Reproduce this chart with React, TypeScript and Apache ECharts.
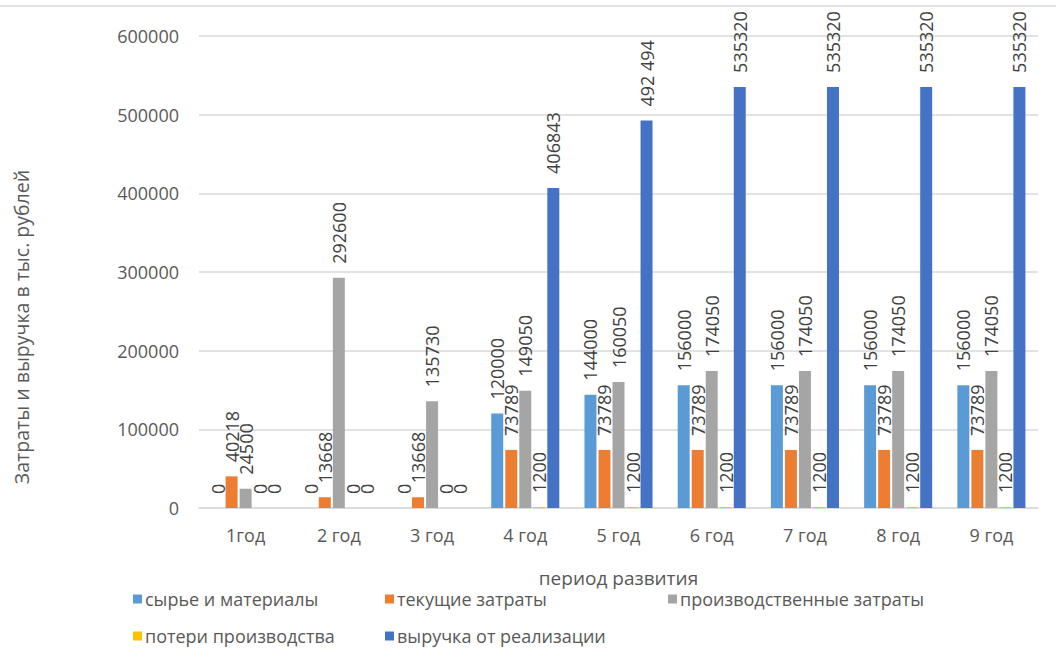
import React, { useEffect, useRef } from "react";
import * as echarts from "echarts";

const categories = ["1год", "2 год", "3 год", "4 год", "5 год", "6 год", "7 год", "8 год", "9 год"];

const rawMaterials = [0, 0, 0, 120000, 144000, 156000, 156000, 156000, 156000];
const currentCosts = [40218, 13668, 13668, 73789, 73789, 73789, 73789, 73789, 73789];
const productionCosts = [24500, 292600, 135730, 149050, 160050, 174050, 174050, 174050, 174050];
const productionLosses = [0, 0, 0, 1200, 1200, 1200, 1200, 1200, 1200];
const salesRevenue = [0, 0, 0, 406843, 492494, 535320, 535320, 535320, 535320];

const seriesNames = [
  "сырье и материалы",
  "текущие затраты",
  "производственные затраты",
  "потери производства",
  "выручка от реализации",
];
const seriesColors = ["#5B9BD5", "#ED7D31", "#A5A5A5", "#FFC000", "#4472C4"];

const yTicks = [0, 100000, 200000, 300000, 400000, 500000, 600000];

const FONT = "'Open Sans', sans-serif";

// Excel-style thousands grouping for the one label that uses it
const spacedValues = new Set([492494]);
const fmt = (v: number) =>
  spacedValues.has(v) ? String(v).replace(/\B(?=(\d{3})+(?!\d))/g, " ") : String(v);

export default function App() {
  const ref = useRef<HTMLDivElement>(null);

  useEffect(() => {
    if (!ref.current) return;
    const chart = echarts.init(ref.current, undefined, { renderer: "svg" });
    const dataSets = [rawMaterials, currentCosts, productionCosts, productionLosses, salesRevenue];

    const legendLayout = [
      { left: 133, top: 590 },
      { left: 385, top: 590 },
      { left: 668, top: 590 },
      { left: 133, top: 627 },
      { left: 385, top: 627 },
    ];

    chart.setOption({
      animation: false,
      textStyle: { fontFamily: FONT },
      grid: { left: 199, right: 18, top: 36, bottom: 156, containLabel: false },
      legend: seriesNames.map((name, i) => ({
        data: [name],
        left: legendLayout[i].left,
        top: legendLayout[i].top,
        itemWidth: 9,
        itemHeight: 9,
        icon: "rect",
        itemGap: 0,
        padding: 0,
        selectedMode: false,
        textStyle: { color: "#595959", fontSize: 18, fontFamily: FONT, padding: [0, 0, 0, -2] },
      })),
      xAxis: {
        type: "category",
        data: categories,
        name: "период развития",
        nameLocation: "middle",
        nameGap: 60,
        nameTextStyle: { color: "#595959", fontSize: 19, fontFamily: FONT },
        axisLine: { lineStyle: { color: "#D9D9D9", width: 1.5 } },
        axisTick: { show: false },
        axisLabel: { color: "#595959", fontSize: 18, fontFamily: FONT, margin: 18 },
      },
      yAxis: {
        type: "value",
        min: yTicks[0],
        max: yTicks[yTicks.length - 1],
        interval: yTicks[1] - yTicks[0],
        axisLine: { show: false },
        axisTick: { show: false },
        axisLabel: {
          color: "#595959",
          fontSize: 18,
          fontFamily: FONT,
          margin: 20,
          formatter: (v: number) => String(v),
        },
        splitLine: { lineStyle: { color: "#D9D9D9", width: 1.5 } },
      },
      graphic: [
        {
          type: "line",
          shape: { x1: 0, y1: 6, x2: 1056, y2: 6 },
          style: { stroke: "#D9D9D9", lineWidth: 1.5 },
        },
        {
          type: "text",
          x: 21,
          y: 327,
          rotation: Math.PI / 2,
          style: {
            text: "Затраты и выручка в тыс. рублей",
            fill: "#595959",
            fontSize: 19.5,
            fontFamily: FONT,
            align: "center",
            verticalAlign: "middle",
          },
        },
      ],
      series: seriesNames.map((name, i) => ({
        name,
        type: "bar",
        data: dataSets[i],
        itemStyle: { color: seriesColors[i] },
        barGap: "17%",
        barCategoryGap: "27%",
        label: {
          show: true,
          position: "top",
          rotate: 90,
          align: "left",
          verticalAlign: "middle",
          distance: 14,
          color: "#404040",
          fontSize: 18,
          fontFamily: FONT,
          formatter: (p: any) => fmt(p.value),
        },
      })),
    });

    return () => chart.dispose();
  }, []);

  return (
    <div
      ref={ref}
      style={{ position: "fixed", left: 0, top: 0, width: 1056, height: 664, background: "#fff" }}
    />
  );
}
